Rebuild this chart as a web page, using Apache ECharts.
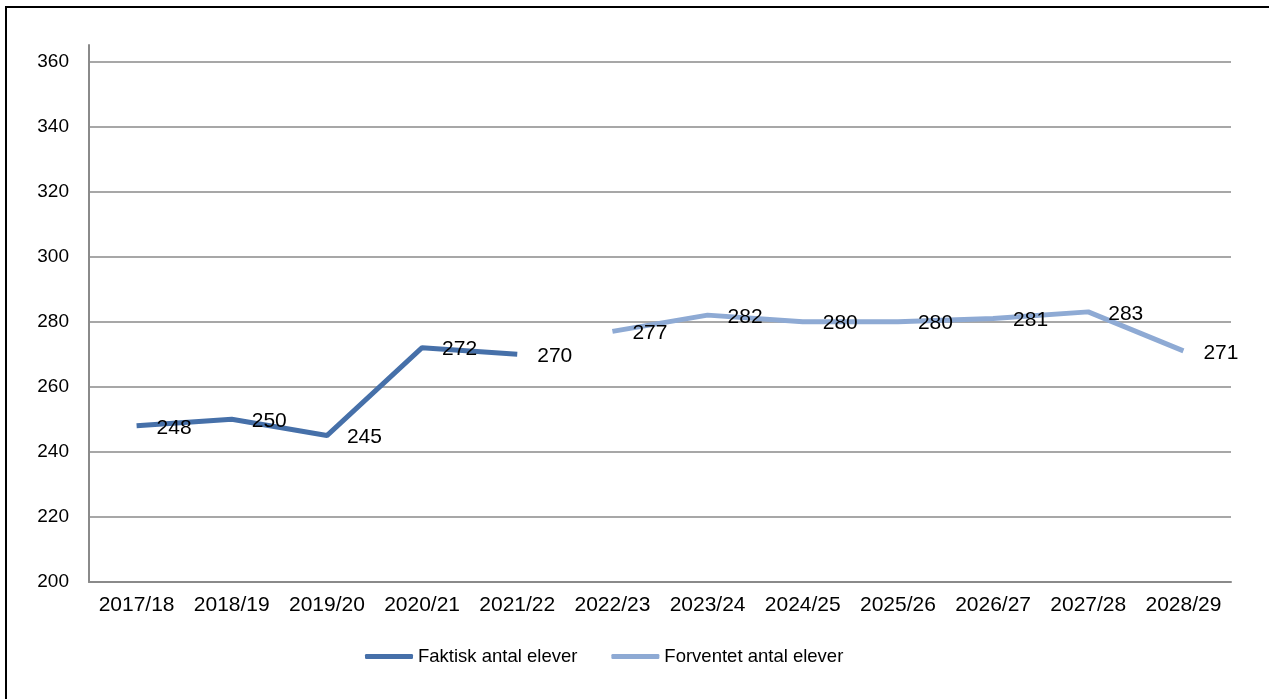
<!DOCTYPE html>
<html>
<head>
<meta charset="utf-8">
<script src="https://cdn.jsdelivr.net/npm/echarts@6/dist/echarts.min.js"></script>
<style>
html,body{margin:0;padding:0;background:#fff;}
#chart{width:1269px;height:699px;}
</style>
</head>
<body>
<div id="chart"></div>
<script>
// skoleår
var years = ['2017/18','2018/19','2019/20','2020/21','2021/22','2022/23','2023/24','2024/25','2025/26','2026/27','2027/28','2028/29'];
// faktisk antal elever
var faktisk = [248, 250, 245, 272, 270, null, null, null, null, null, null, null];
// forventet antal elever
var forventet = [null, null, null, null, null, 277, 282, 280, 280, 281, 283, 271];
var yTicks = [200, 220, 240, 260, 280, 300, 320, 340, 360];

var myChart = echarts.init(document.getElementById('chart'));

var gridColors = [];
for (var i = 0; i < yTicks.length; i++) gridColors.push('#8a8a8a');
gridColors.push('rgba(0,0,0,0)');

function labelOpt(){
	return {
		show: true,
		position: 'right',
		distance: 20,
		offset: [0, 2],
		color: '#000',
		fontSize: 21,
		fontFamily: 'Liberation Sans, Arial, sans-serif'
	};
}

var option = {
	animation: false,
	textStyle: {fontFamily: 'Liberation Sans, Arial, sans-serif'},
	graphic: [{
		type: 'rect',
		shape: {x: 6, y: 7, width: 1320, height: 760},
		style: {fill: 'none', stroke: '#000', lineWidth: 2},
		silent: true
	}],
	grid: {left: 89, right: 38, top: 45, bottom: 117, containLabel: false},
	legend: {
		bottom: 28,
		left: 360,
		itemWidth: 48,
		itemHeight: 5,
		itemGap: 34,
		icon: 'roundRect',
		textStyle: {color: '#000', fontSize: 18.5, fontFamily: 'Liberation Sans, Arial, sans-serif'},
		data: ['Faktisk antal elever', 'Forventet antal elever']
	},
	xAxis: {
		type: 'category',
		data: years,
		boundaryGap: true,
		axisLine: {lineStyle: {color: '#8a8a8a', width: 2}},
		axisTick: {show: false},
		axisLabel: {color: '#000', fontSize: 21, margin: 13, interval: 0}
	},
	yAxis: {
		type: 'value',
		min: 200,
		max: 365,
		interval: 20,
		axisLine: {show: true, lineStyle: {color: '#8a8a8a', width: 2}},
		axisTick: {show: false},
		axisLabel: {
			color: '#000', fontSize: 19, margin: 20, showMaxLabel: false,
			formatter: function(v){ return yTicks.indexOf(v) >= 0 ? v : ''; }
		},
		splitLine: {show: true, lineStyle: {color: gridColors, width: 1.5}}
	},
	series: [
		{
			name: 'Faktisk antal elever',
			type: 'line',
			data: faktisk,
			symbol: 'circle',
			symbolSize: 0,
			showSymbol: true,
			connectNulls: false,
			itemStyle: {color: '#4670a9'},
			lineStyle: {color: '#4670a9', width: 5},
			label: labelOpt()
		},
		{
			name: 'Forventet antal elever',
			type: 'line',
			data: forventet,
			symbol: 'circle',
			symbolSize: 0,
			showSymbol: true,
			connectNulls: false,
			itemStyle: {color: '#8eaad4'},
			lineStyle: {color: '#8eaad4', width: 5},
			label: labelOpt()
		}
	]
};
myChart.setOption(option);
</script>
</body>
</html>
